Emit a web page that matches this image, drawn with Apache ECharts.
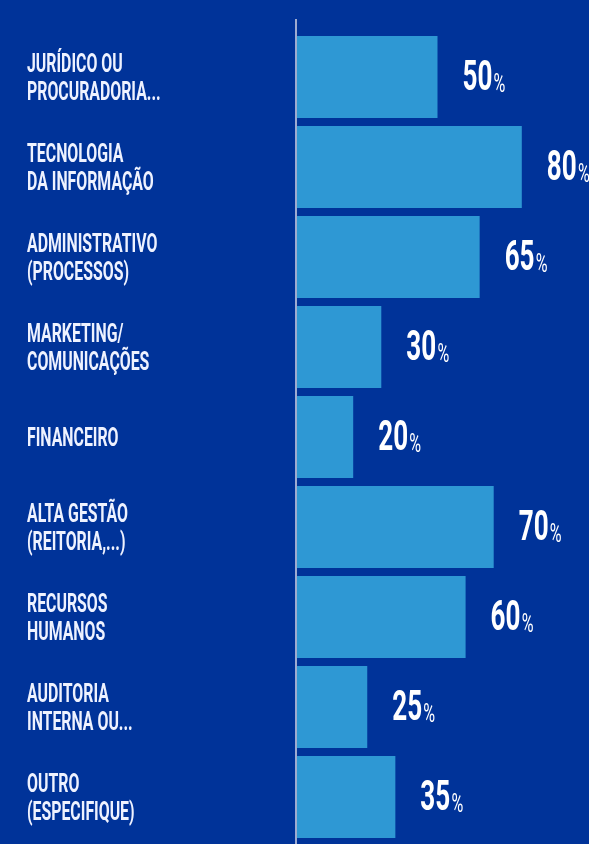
<!DOCTYPE html>
<html>
<head>
<meta charset="utf-8">
<script src="https://cdn.jsdelivr.net/npm/echarts@6/dist/echarts.min.js"></script>
<style>
  html, body { margin: 0; padding: 0; background: #003399; }
  #chart { width: 589px; height: 844px; }
</style>
</head>
<body>
<div id="chart"></div>
<script>
// categorias (de cima para baixo)
const categories = [
  "JURÍDICO OU\nPROCURADORIA...",
  "TECNOLOGIA\nDA INFORMAÇÃO",
  "ADMINISTRATIVO\n(PROCESSOS)",
  "MARKETING/\nCOMUNICAÇÕES",
  "FINANCEIRO",
  "ALTA GESTÃO\n(REITORIA,...)",
  "RECURSOS\nHUMANOS",
  "AUDITORIA\nINTERNA OU...",
  "OUTRO\n(ESPECIFIQUE)"
];
const values = [50, 80, 65, 30, 20, 70, 60, 25, 35];

const font = "Roboto, 'DejaVu Sans', sans-serif";
const squeeze = 0.61; // a fonte original é bem condensada

// medir texto (sem escala) para posicionar o "%"
const ctx = document.createElement("canvas").getContext("2d");
function textWidth(txt, f) {
  ctx.font = f;
  return ctx.measureText(txt).width;
}

const labelData = values.map((v, i) => [v, i]);

const chart = echarts.init(document.getElementById("chart"));
chart.setOption({
  backgroundColor: "#003399",
  animation: false,
  grid: { left: 297, right: 11, top: 32, bottom: 2 },
  xAxis: { type: "value", min: 0, max: 100, show: false },
  yAxis: {
    type: "category",
    data: categories,
    inverse: true,
    axisLine: { show: false },
    axisTick: { show: false },
    axisLabel: { show: false }
  },
  series: [
    {
      type: "bar",
      data: values,
      barWidth: 82,
      itemStyle: { color: "#2e98d4" }
    },
    {
      // rótulos das categorias e dos valores (texto condensado)
      type: "custom",
      clip: false,
      data: labelData,
      encode: { x: 0, y: 1 },
      z: 5,
      renderItem: (params, api) => {
        const v = api.value(0);
        const idx = api.value(1);
        const end = api.coord([v, idx]);
        const numFont = "bold 42px " + font;
        const numW = textWidth(String(v), numFont);
        return {
          type: "group",
          children: [
            {
              type: "text",
              x: 27,
              y: end[1] + 2,
              scaleX: squeeze,
              style: {
                text: categories[idx],
                fill: "#eef2ff",
                font: "bold 26px " + font,
                lineHeight: 28,
                align: "left",
                verticalAlign: "middle"
              }
            },
            {
              type: "group",
              x: end[0] + 25,
              y: end[1] + 2,
              scaleX: 0.62,
              children: [
                {
                  type: "text",
                  x: 0,
                  y: 0,
                  style: {
                    text: String(v),
                    fill: "#ffffff",
                    font: numFont,
                    align: "left",
                    verticalAlign: "middle"
                  }
                },
                {
                  type: "text",
                  x: numW + 2,
                  y: 6,
                  style: {
                    text: "%",
                    fill: "#ffffff",
                    font: "26px " + font,
                    align: "left",
                    verticalAlign: "middle"
                  }
                }
              ]
            }
          ]
        };
      }
    }
  ],
  // linha vertical do eixo (começa um pouco acima das barras)
  graphic: [{
    type: "rect",
    shape: { x: 295, y: 19, width: 2, height: 825 },
    style: { fill: "#9eabd0" },
    z: 10
  }]
});
</script>
</body>
</html>
